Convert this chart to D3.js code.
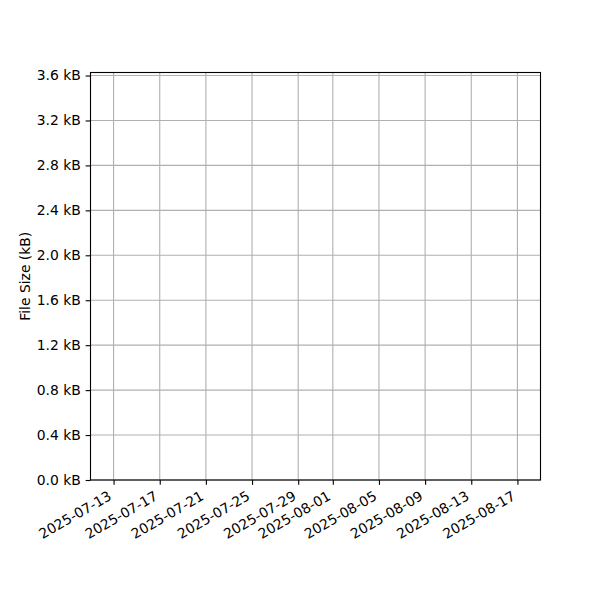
<!DOCTYPE html>
<html>
<head>
<meta charset="utf-8">
<script src="https://cdn.jsdelivr.net/npm/d3@7"></script>
<style>
  body { margin: 0; background: #fff; }
  svg text { font-family: "DejaVu Sans", sans-serif; fill: #000; }
</style>
</head>
<body>
<div id="chart"></div>
<script>
// Series is empty in the reference: only axes and grid are drawn
const seriesDates = [];
const seriesSizes = [];

const xDomain = ["2025-07-11", "2025-08-19"];
const xTickLabels = ["2025-07-13", "2025-07-17", "2025-07-21", "2025-07-25", "2025-07-29",
                     "2025-08-01", "2025-08-05", "2025-08-09", "2025-08-13", "2025-08-17"];
const yDomain = [0, 3.627];
const yTickValues = [0, 0.4, 0.8, 1.2, 1.6, 2.0, 2.4, 2.8, 3.2, 3.6];
const yLabel = "File Size (kB)";

const parseDate = d3.utcParse("%Y-%m-%d");
const fmtDate = d3.utcFormat("%Y-%m-%d");

const W = 600, H = 600;
const plotLeft = 90.5, plotRight = 540.5, plotTop = 72.5, plotBottom = 480;
const tickLen = 4.86, pad = 4.86, fontSize = 13.9;

const svg = d3.select("#chart").append("svg")
    .attr("width", W)
    .attr("height", H);

const x = d3.scaleUtc()
    .domain(xDomain.map(parseDate))
    .range([plotLeft, plotRight]);

const y = d3.scaleLinear()
    .domain(yDomain)
    .range([plotBottom, plotTop]);

const xTicks = xTickLabels.map(parseDate);

// Grid
svg.append("g")
    .selectAll("line")
    .data(xTicks)
    .join("line")
    .attr("x1", d => x(d)).attr("x2", d => x(d))
    .attr("y1", plotTop).attr("y2", plotBottom)
    .attr("stroke", "#b0b0b0")
    .attr("stroke-width", 1.11);

svg.append("g")
    .selectAll("line")
    .data(yTickValues)
    .join("line")
    .attr("x1", plotLeft).attr("x2", plotRight)
    .attr("y1", d => y(d)).attr("y2", d => y(d))
    .attr("stroke", "#b0b0b0")
    .attr("stroke-width", 1.11);

// Data line (empty)
const line = d3.line()
    .x((d, i) => x(parseDate(seriesDates[i])))
    .y(d => y(d));
svg.append("path")
    .datum(seriesSizes)
    .attr("d", line)
    .attr("fill", "none")
    .attr("stroke", "#1f77b4")
    .attr("stroke-width", 2);

// Axes
const xAxis = svg.append("g")
    .attr("transform", `translate(0,${plotBottom})`)
    .call(d3.axisBottom(x).tickValues(xTicks).tickFormat(fmtDate).tickSize(tickLen).tickSizeOuter(0));
xAxis.select(".domain").remove();
xAxis.selectAll("line").attr("stroke", "#000").attr("stroke-width", 1.11);
// rotated labels: right edge of the rotated box sits on the tick
xAxis.selectAll("text")
    .attr("font-size", fontSize)
    .attr("text-anchor", "end")
    .attr("y", 0)
    .attr("dy", 0)
    .attr("transform", `translate(-1.6,${tickLen + pad + 9.2}) rotate(-30)`);

const yAxis = svg.append("g")
    .attr("transform", `translate(${plotLeft},0)`)
    .call(d3.axisLeft(y).tickValues(yTickValues).tickFormat(d => d3.format(".1f")(d) + " kB")
        .tickSize(tickLen).tickPadding(pad).tickSizeOuter(0));
yAxis.select(".domain").remove();
yAxis.selectAll("line").attr("stroke", "#000").attr("stroke-width", 1.11);
yAxis.selectAll("text").attr("font-size", fontSize);

// Frame
svg.append("rect")
    .attr("x", plotLeft).attr("y", plotTop)
    .attr("width", plotRight - plotLeft).attr("height", plotBottom - plotTop)
    .attr("fill", "none")
    .attr("stroke", "#000")
    .attr("stroke-width", 1.11);

svg.append("text")
    .attr("transform", `translate(30,${(plotTop + plotBottom) / 2}) rotate(-90)`)
    .attr("text-anchor", "middle")
    .attr("font-size", fontSize)
    .text(yLabel);
</script>
</body>
</html>
